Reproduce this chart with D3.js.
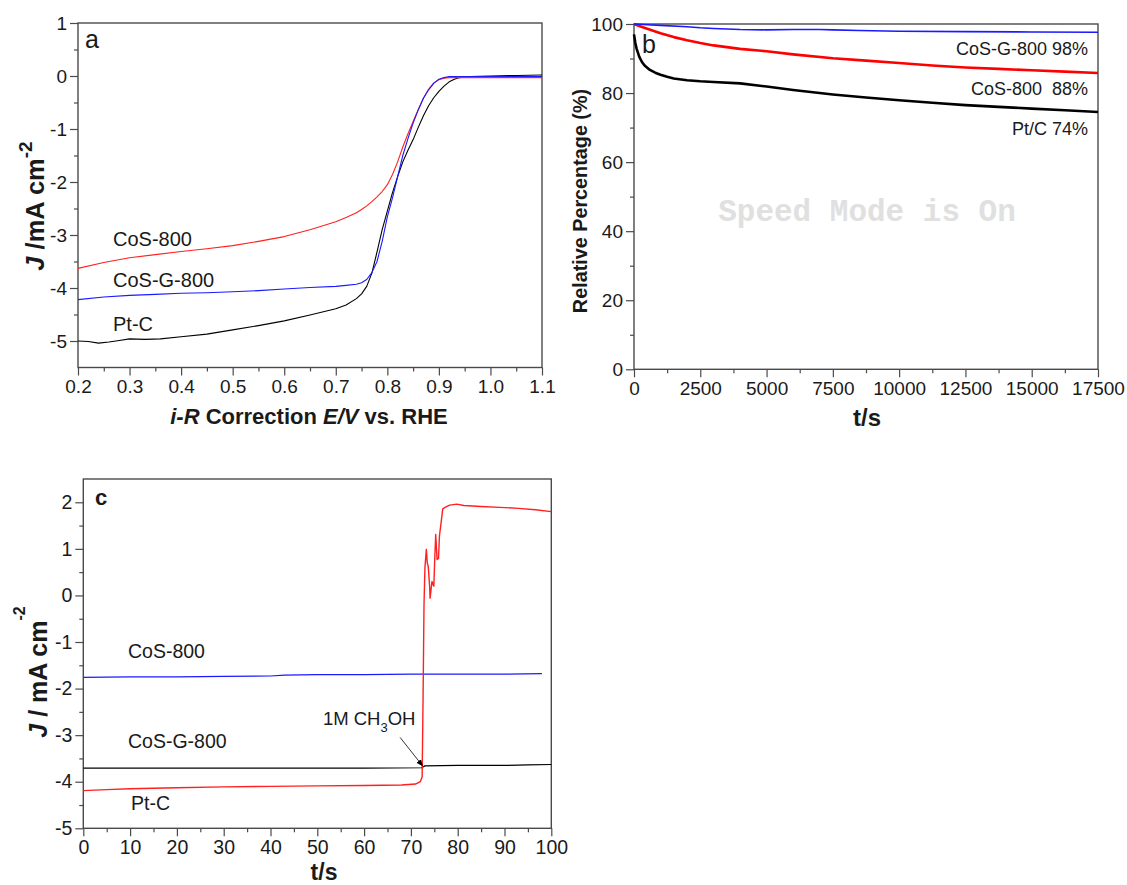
<!DOCTYPE html>
<html><head><meta charset="utf-8">
<script src="https://cdn.jsdelivr.net/npm/d3@7"></script>
<style>
body{margin:0;background:#fff}
text{font-family:Arial,"Liberation Sans",Helvetica,sans-serif;fill:#1a1a1a}
</style>
</head><body>
<svg id="chart" width="1127" height="885"></svg>
<script>
// ---------- Panel a : LSV curves (E / V vs RHE, J / mA cm-2) ----------
const lsvCoS800 = [[0.20,-3.63],[0.25,-3.52],[0.30,-3.43],[0.35,-3.37],[0.40,-3.31],[0.45,-3.26],[0.50,-3.20],[0.55,-3.12],[0.60,-3.03],[0.65,-2.90],[0.70,-2.75],[0.72,-2.67],[0.74,-2.58],[0.75,-2.52],[0.76,-2.45],[0.77,-2.37],[0.78,-2.28],[0.79,-2.18],[0.80,-2.05],[0.81,-1.86],[0.82,-1.62],[0.83,-1.34],[0.84,-1.09],[0.85,-0.86],[0.86,-0.63],[0.87,-0.42],[0.88,-0.25],[0.89,-0.13],[0.90,-0.07],[0.91,-0.04],[0.92,-0.03],[1.00,-0.03],[1.10,-0.03]];
const lsvCoSG800 = [[0.20,-4.22],[0.25,-4.17],[0.30,-4.14],[0.35,-4.12],[0.40,-4.10],[0.45,-4.09],[0.50,-4.07],[0.55,-4.05],[0.60,-4.02],[0.65,-3.99],[0.70,-3.97],[0.72,-3.95],[0.74,-3.93],[0.75,-3.90],[0.76,-3.84],[0.77,-3.71],[0.78,-3.50],[0.79,-3.12],[0.80,-2.66],[0.81,-2.30],[0.82,-1.90],[0.83,-1.50],[0.84,-1.18],[0.85,-0.89],[0.86,-0.64],[0.87,-0.42],[0.88,-0.26],[0.89,-0.14],[0.90,-0.06],[0.91,-0.03],[0.92,-0.01],[1.00,-0.01],[1.10,-0.01]];
const lsvPtC = [[0.20,-5.00],[0.22,-5.01],[0.24,-5.04],[0.26,-5.02],[0.28,-4.99],[0.30,-4.96],[0.33,-4.97],[0.36,-4.96],[0.40,-4.92],[0.45,-4.87],[0.50,-4.79],[0.55,-4.71],[0.60,-4.62],[0.65,-4.51],[0.70,-4.39],[0.72,-4.32],[0.74,-4.20],[0.75,-4.11],[0.76,-3.97],[0.77,-3.72],[0.78,-3.32],[0.79,-2.90],[0.80,-2.55],[0.81,-2.20],[0.82,-1.90],[0.83,-1.62],[0.84,-1.40],[0.85,-1.20],[0.86,-0.97],[0.87,-0.75],[0.88,-0.56],[0.89,-0.41],[0.90,-0.29],[0.91,-0.19],[0.92,-0.11],[0.93,-0.06],[0.94,-0.03],[0.96,-0.01],[1.00,0.00],[1.05,0.01],[1.10,0.02]];
const aXTicks = [0.2,0.3,0.4,0.5,0.6,0.7,0.8,0.9,1.0,1.1];
const aYTicks = [-5,-4,-3,-2,-1,0,1];

// ---------- Panel b : chronoamperometric stability (t / s, relative %) ----------
const stabCoSG800 = [[0,100],[500,99.8],[1000,99.6],[2000,99.2],[2500,98.9],[3000,98.7],[4000,98.4],[5000,98.3],[6000,98.4],[7000,98.4],[7500,98.3],[8500,98.1],[10000,97.9],[12500,97.8],[15000,97.7],[17500,97.6]];
const stabCoS800 = [[0,100],[250,99.3],[500,98.6],[1000,97.3],[1500,96.2],[2000,95.3],[2500,94.5],[3000,93.8],[4000,92.8],[5000,92.1],[6000,91.2],[7500,90.1],[8750,89.4],[10000,88.7],[11250,88.0],[12500,87.4],[13750,87.0],[15000,86.6],[16250,86.2],[17500,85.8]];
const stabPtC = [[0,97.0],[50,94.5],[100,92.8],[200,90.5],[300,89.0],[400,88.0],[600,86.7],[800,85.9],[1000,85.3],[1250,84.7],[1500,84.2],[2000,83.7],[2500,83.4],[3000,83.2],[4000,82.8],[5000,81.9],[6000,80.9],[7500,79.6],[8750,78.7],[10000,77.9],[11250,77.2],[12500,76.5],[13750,76.0],[15000,75.5],[16250,75.0],[17500,74.5]];
const bXTicks = [0,2500,5000,7500,10000,12500,15000,17500];
const bYTicks = [0,20,40,60,80,100];
const bLabels = ["CoS-G-800 98%","CoS-800\u00a0\u00a088%","Pt/C 74%"];

// ---------- Panel c : methanol tolerance (t / s, J / mA cm-2) ----------
const itCoS800 = [[0,-1.76],[10,-1.75],[20,-1.75],[30,-1.74],[40,-1.73],[43,-1.71],[50,-1.70],[60,-1.70],[70,-1.69],[80,-1.69],[90,-1.69],[98,-1.68]];
const itCoSG800 = [[0,-3.71],[20,-3.71],[40,-3.71],[60,-3.71],[72.3,-3.70],[73,-3.66],[80,-3.65],[90,-3.65],[95,-3.64],[100,-3.63]];
const itPtC = [[0,-4.19],[5,-4.17],[10,-4.15],[20,-4.13],[30,-4.11],[40,-4.10],[50,-4.09],[60,-4.08],[68,-4.07],[71,-4.05],[72,-4.00],[72.4,-3.90],[72.6,-2.20],[72.8,-0.20],[73.0,0.60],[73.3,0.99],[73.5,0.70],[73.7,0.63],[74.0,0.20],[74.1,-0.06],[74.5,0.30],[74.9,0.20],[75.1,0.80],[75.3,1.31],[75.6,0.77],[75.9,0.80],[76.1,1.28],[76.5,1.60],[76.8,1.86],[77.5,1.90],[78.3,1.94],[79.8,1.96],[81.3,1.93],[85,1.91],[89,1.89],[93,1.87],[96.6,1.84],[100,1.80]];
const cXTicks = [0,10,20,30,40,50,60,70,80,90,100];
const cYTicks = [-5,-4,-3,-2,-1,0,1,2];

const svg = d3.select("#chart");
const AX = "#4a4a4a";

function frame(x, y, xMaj, xMin, yMaj, yMin, fx, fy, fs){
  const g = svg.append("g");
  const [x0,x1] = x.range(), [y0,y1] = y.range();
  g.append("g").attr("transform",`translate(0,${y0})`)
    .call(d3.axisBottom(x).tickValues(xMin).tickSize(4).tickFormat(""))
    .call(s=>s.select(".domain").remove());
  g.append("g").attr("transform",`translate(${x0},0)`)
    .call(d3.axisLeft(y).tickValues(yMin).tickSize(4).tickFormat(""))
    .call(s=>s.select(".domain").remove());
  const xa = g.append("g").attr("transform",`translate(0,${y0})`)
    .call(d3.axisBottom(x).tickValues(xMaj).tickSize(8).tickPadding(4).tickFormat(fx));
  const ya = g.append("g").attr("transform",`translate(${x0},0)`)
    .call(d3.axisLeft(y).tickValues(yMaj).tickSize(8).tickPadding(3).tickFormat(fy));
  [xa,ya].forEach(a=>{a.attr("font-size",fs); a.selectAll("text").style("font-size",fs+"px").style("fill","#1a1a1a");});
  g.selectAll(".tick line").attr("stroke",AX).attr("stroke-width",1.2);
  g.selectAll(".domain").remove();
  g.append("rect").attr("x",x0).attr("y",y1).attr("width",x1-x0).attr("height",y0-y1)
    .attr("fill","none").attr("stroke",AX).attr("stroke-width",1.4);
  return g;
}
function curve(x,y,data,color,w){
  svg.append("path").datum(data)
    .attr("d",d3.line().x(d=>x(d[0])).y(d=>y(d[1])))
    .attr("fill","none").attr("stroke",color).attr("stroke-width",w).attr("stroke-linejoin","round");
}
function minorsBetween(maj){ const r=[]; for(let i=0;i<maj.length-1;i++) r.push((maj[i]+maj[i+1])/2); return r; }

// ===== Panel a =====
const xa = d3.scaleLinear().domain([0.2,1.1]).range([78,542]);
const ya = d3.scaleLinear().domain([-5.5,1]).range([367.5,23]);
frame(xa,ya,aXTicks,minorsBetween(aXTicks),aYTicks,minorsBetween(aYTicks),d=>d.toFixed(1),d=>String(d),19);
curve(xa,ya,lsvPtC,"#000",1.1);
curve(xa,ya,lsvCoS800,"#ff2020",1.1);
curve(xa,ya,lsvCoSG800,"#1a1aff",1.1);
svg.append("text").attr("x",85).attr("y",48).attr("font-size",25).text("a");
svg.append("text").attr("x",113).attr("y",246).attr("font-size",20).text("CoS-800");
svg.append("text").attr("x",113).attr("y",287).attr("font-size",20).text("CoS-G-800");
svg.append("text").attr("x",113).attr("y",331).attr("font-size",20).text("Pt-C");
{
  const t = svg.append("text").attr("transform","translate(44,206) rotate(-90)")
    .attr("text-anchor","middle").attr("font-size",25.5).attr("font-weight","bold");
  t.append("tspan").attr("font-style","italic").text("J");
  t.append("tspan").text(" /mA cm");
  t.append("tspan").attr("dy",-12).attr("font-size",19).text("-2");
}
{
  const t = svg.append("text").attr("x",309).attr("y",424)
    .attr("text-anchor","middle").attr("font-size",22).attr("font-weight","bold");
  t.append("tspan").attr("font-style","italic").text("i-R");
  t.append("tspan").text(" Correction ");
  t.append("tspan").attr("font-style","italic").text("E/V");
  t.append("tspan").text(" vs. RHE");
}

// ===== Panel b =====
const xb = d3.scaleLinear().domain([0,17500]).range([634,1098]);
const yb = d3.scaleLinear().domain([0,100]).range([369.3,24]);
frame(xb,yb,bXTicks,minorsBetween(bXTicks),bYTicks,minorsBetween(bYTicks),d=>String(d),d=>String(d),19);
svg.append("text").attr("x",867).attr("y",221).attr("text-anchor","middle")
  .style("font-family","'Liberation Mono','Courier New',monospace").style("font-weight","bold").attr("font-size",31)
  .style("fill","#e0e0e0").text("Speed Mode is On");
curve(xb,yb,stabPtC,"#000",2.6);
curve(xb,yb,stabCoS800,"#ff0000",2.6);
curve(xb,yb,stabCoSG800,"#1a1aff",1.6);
svg.append("text").attr("x",642).attr("y",53).attr("font-size",25).text("b");
[[55,0],[95,1],[135,2]].forEach(([yy,i])=>{
  svg.append("text").attr("x",1088).attr("y",yy).attr("text-anchor","end").attr("font-size",18).text(bLabels[i]);
});
svg.append("text").attr("transform","translate(587,201) rotate(-90)").attr("text-anchor","middle")
  .attr("font-size",19.8).attr("font-weight","bold").text("Relative Percentage (%)");
svg.append("text").attr("x",867).attr("y",426).attr("text-anchor","middle")
  .attr("font-size",24).attr("font-weight","bold").text("t/s");

// ===== Panel c =====
const xc = d3.scaleLinear().domain([0,100]).range([83.3,551.3]);
const yc = d3.scaleLinear().domain([-5,2.5]).range([828.3,479]);
frame(xc,yc,cXTicks,minorsBetween(cXTicks),cYTicks,minorsBetween(cYTicks),d=>String(d),d=>String(d),19.5);
curve(xc,yc,itCoSG800,"#000",1.2);
curve(xc,yc,itCoS800,"#1a1aff",1.2);
curve(xc,yc,itPtC,"#ff2020",1.4);
svg.append("text").attr("x",95).attr("y",505).attr("font-size",22).attr("font-weight","bold").text("c");
svg.append("text").attr("x",128).attr("y",658).attr("font-size",19.5).text("CoS-800");
svg.append("text").attr("x",128).attr("y",748).attr("font-size",19.5).text("CoS-G-800");
svg.append("text").attr("x",131).attr("y",810).attr("font-size",19.5).text("Pt-C");
{
  const t = svg.append("text").attr("x",xc(51.2)).attr("y",725).attr("font-size",18.5);
  t.append("tspan").text("1M CH");
  t.append("tspan").attr("dy",7).attr("font-size",13).text("3");
  t.append("tspan").attr("dy",-7).text("OH");
  const defs = svg.append("defs");
  defs.append("marker").attr("id","ah").attr("viewBox","0 0 10 10").attr("refX",9).attr("refY",5)
    .attr("markerWidth",7).attr("markerHeight",7).attr("orient","auto")
    .append("path").attr("d","M0,1 L10,5 L0,9 Z").attr("fill","#000");
  svg.append("line").attr("x1",xc(67.7)).attr("y1",yc(-3.05)).attr("x2",xc(72.5)).attr("y2",yc(-3.66))
    .attr("stroke","#333").attr("stroke-width",1).attr("marker-end","url(#ah)");
}
{
  const t = svg.append("text").attr("transform","translate(47,672) rotate(-90)")
    .attr("text-anchor","middle").attr("font-size",25).attr("font-weight","bold");
  t.append("tspan").attr("font-style","italic").text("J");
  t.append("tspan").text(" / mA cm");
  t.append("tspan").attr("dy",-22).attr("font-size",16).text("-2");
}
svg.append("text").attr("x",324).attr("y",880).attr("text-anchor","middle")
  .attr("font-size",23).attr("font-weight","bold").text("t/s");
</script>
</body></html>
